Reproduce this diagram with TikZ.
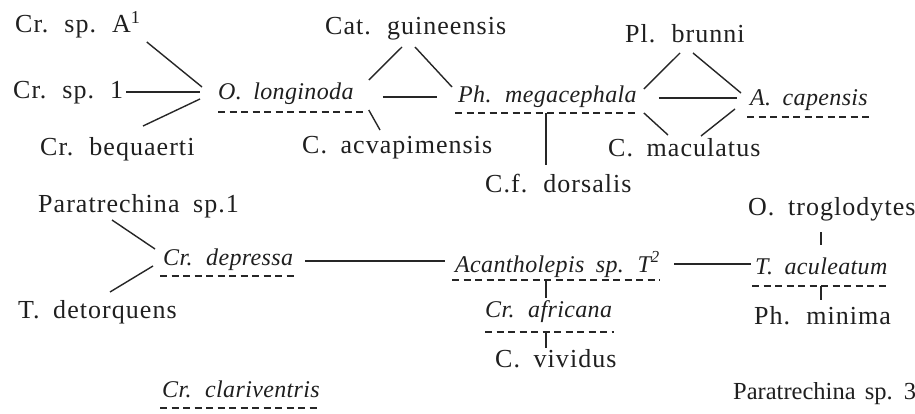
\documentclass[tikz,border=0pt]{standalone}
\usepackage{fontspec}
\setmainfont{Liberation Serif}[LetterSpace=1.5,WordSpace=1.8]
\newfontfamily\rmwide{Liberation Serif}[LetterSpace=4,WordSpace=1.8]
\newfontfamily\rmplain{Liberation Serif}[WordSpace=1.5]
\begin{document}
\begin{tikzpicture}[x=1pt,y=-1pt,
  rm/.style={anchor=base west, inner sep=0pt, text=black!88, font=\rmwide\fontsize{26}{30}\selectfont},
  it/.style={anchor=base west, inner sep=0pt, text=black!88, font=\fontsize{24}{28}\selectfont\itshape},
  link/.style={line width=1.4pt, draw=black!85},
  uline/.style={line width=1.3pt, draw=black!85, dash pattern=on 7pt off 4.5pt}]
\useasboundingbox[fill=white] (0,0) rectangle (915,414);

% ---- top group ----
\node[rm] (spA)  at (15,33)  {Cr. sp. A\textsuperscript{1}};
\node[rm] (sp1)  at (13,99)  {Cr. sp. 1};
\node[rm] (beq)  at (40,156) {Cr. bequaerti};
\node[it] (olong) at (218,100) {O. longinoda};
\node[rm] (cat)  at (325,35) {Cat. guineensis};
\node[rm] (acva) at (302,154) {C. acvapimensis};
\node[it] (phm)  at (458,103) {Ph. megacephala};
\node[rm] (dors) at (485,193) {C.f. dorsalis};
\node[rm] (brun) at (625,43) {Pl. brunni};
\node[rm] (macu) at (608,157) {C. maculatus};
\node[it] (acap) at (750,106) {A. capensis};

% ---- bottom group ----
\node[rm] (par1) at (38,212) {Paratrechina sp.1};
\node[it] (depr) at (163,265) {Cr. depressa};
\node[rm] (detq) at (18,318) {T. detorquens};
\node[it] (acan) at (455,272) {Acantholepis sp. T\textsuperscript{2}};
\node[it] (afri) at (485,317) {Cr. africana};
\node[rm] (vivi) at (495,367) {C. vividus};
\node[rm] (trog) at (748,215) {O. troglodytes};
\node[it] (acul) at (755,274) {T. aculeatum};
\node[rm] (mini) at (754,324) {Ph. minima};
\node[it] (clar) at (162,397) {Cr. clariventris};
\node[rm, font=\rmplain\fontsize{24.5}{28}\selectfont] (par3) at (733,399) {Paratrechina sp. 3};

% ---- dashed underlines ----
\draw[uline] ([shift={(0,12)}]olong.base west) -- ([shift={(10,12)}]olong.base east);
\draw[uline] ([shift={(-3,10)}]phm.base west) -- ([shift={(2,10)}]phm.base east);
\draw[uline] ([shift={(-3,11)}]acap.base west) -- ([shift={(5,11)}]acap.base east);
\draw[uline] ([shift={(-3,11)}]depr.base west) -- ([shift={(2,11)}]depr.base east);
\draw[uline] ([shift={(-3,8)}]acan.base west) -- ([shift={(0,8)}]acan.base east);
\draw[uline] ([shift={(0,15)}]afri.base west) -- ([shift={(2,15)}]afri.base east);
\draw[uline] ([shift={(-3,12)}]acul.base west) -- ([shift={(0,12)}]acul.base east);
\draw[uline] ([shift={(-2,11)}]clar.base west) -- ([shift={(0,11)}]clar.base east);

% ---- connectors ----
\draw[link] ([shift={(6,9)}]spA.base east) -- ([shift={(-16,-13)}]olong.base west);
\draw[link] ([shift={(3,-7)}]sp1.base east) -- ([shift={(-18,-8)}]olong.base west);
\draw[link] ([shift={(103,-30)}]beq.base west) -- ([shift={(-18,-1)}]olong.base west);
\draw[link] ([shift={(15,-20)}]olong.base east) -- ([shift={(77,12)}]cat.base west);
\draw[link] ([shift={(90,12)}]cat.base west) -- ([shift={(-6,-16)}]phm.base west);
\draw[link] ([shift={(29,-3)}]olong.base east) -- ([shift={(-21,-6)}]phm.base west);
\draw[link] ([shift={(15,10)}]olong.base east) -- ([shift={(78,-24)}]acva.base west);
\draw[link] ([shift={(88,10)}]phm.base west) -- ([shift={(61,-28)}]dors.base west);
\draw[link] ([shift={(7,-14)}]phm.base east) -- ([shift={(55,10)}]brun.base west);
\draw[link] ([shift={(68,10)}]brun.base west) -- ([shift={(-9,-13)}]acap.base west);
\draw[link] ([shift={(22,-5)}]phm.base east) -- ([shift={(-13,-8)}]acap.base west);
\draw[link] ([shift={(7,10)}]phm.base east) -- ([shift={(60,-22)}]macu.base west);
\draw[link] ([shift={(93,-21)}]macu.base west) -- ([shift={(-15,3)}]acap.base west);

\draw[link] ([shift={(74,8)}]par1.base west) -- ([shift={(-8,-16)}]depr.base west);
\draw[link] ([shift={(92,-26)}]detq.base west) -- ([shift={(-10,1)}]depr.base west);
\draw[link] ([shift={(12,-4)}]depr.base east) -- ([shift={(-10,-11)}]acan.base west);
\draw[link] ([shift={(14,-8)}]acan.base east) -- ([shift={(-4,-10)}]acul.base west);
\draw[link] ([shift={(91,8)}]acan.base west) -- ([shift={(61,-19)}]afri.base west);
\draw[link] ([shift={(61,15)}]afri.base west) -- ([shift={(51,-19)}]vivi.base west);
\draw[link] ([shift={(73,17)}]trog.base west) -- ([shift={(66,-29)}]acul.base west);
\draw[link] ([shift={(66,12)}]acul.base west) -- ([shift={(67,-24)}]mini.base west);
\end{tikzpicture}
\end{document}
